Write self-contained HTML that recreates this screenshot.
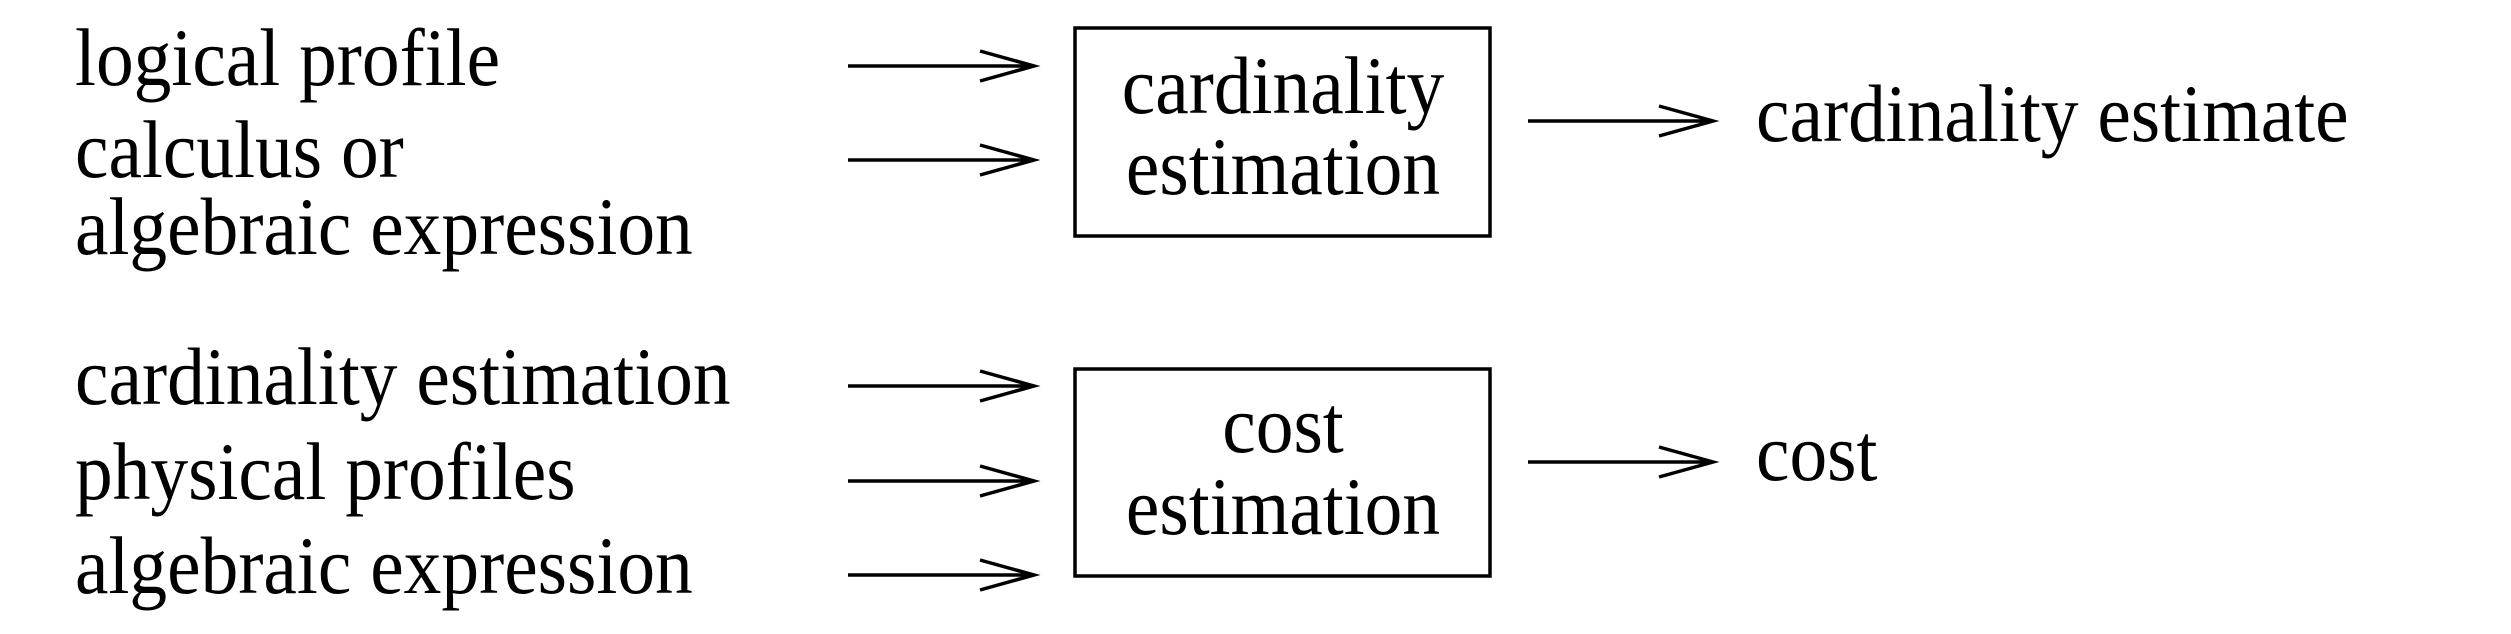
<!DOCTYPE html>
<html><head><meta charset="utf-8"><style>
html,body{margin:0;padding:0;background:#fff;}
svg{display:block;}
text{font-family:"Liberation Serif",serif;font-size:82px;fill:#000;}
</style></head><body>
<svg width="2511" height="634" viewBox="0 0 2511 634" xmlns="http://www.w3.org/2000/svg">
<g stroke="#000" stroke-width="3.5" fill="none">
<rect x="1075" y="28" width="415" height="208"/>
<rect x="1075" y="369" width="415" height="207"/>
<path d="M848 66H1034M980 51L1034 66L980 81"/>
<path d="M848 160H1034M980 145L1034 160L980 175"/>
<path d="M848 386H1034M980 371L1034 386L980 401"/>
<path d="M848 481H1034M980 466L1034 481L980 496"/>
<path d="M848 575H1034M980 560L1034 575L980 590"/>
<path d="M1528 121H1713M1659 106L1713 121L1659 136"/>
<path d="M1528 462H1713M1659 447L1713 462L1659 477"/>
</g>
<text transform="translate(75 85) scale(0.92 1)">logical profile</text>
<text transform="translate(75 177) scale(0.92 1)">calculus or</text>
<text transform="translate(75 254) scale(0.92 1)">algebraic expression</text>
<text transform="translate(75 404) scale(0.92 1)">cardinality estimation</text>
<text transform="translate(75 499) scale(0.92 1)">physical profiles</text>
<text transform="translate(75 593) scale(0.92 1)">algebraic expression</text>
<text transform="translate(1283 113) scale(0.92 1)" text-anchor="middle">cardinality</text>
<text transform="translate(1283 194) scale(0.92 1)" text-anchor="middle">estimation</text>
<text transform="translate(1283 452) scale(0.92 1)" text-anchor="middle">cost</text>
<text transform="translate(1283 534) scale(0.92 1)" text-anchor="middle">estimation</text>
<text transform="translate(1756 141) scale(0.92 1)">cardinality estimate</text>
<text transform="translate(1756 480) scale(0.92 1)">cost</text>
</svg>
</body></html>
